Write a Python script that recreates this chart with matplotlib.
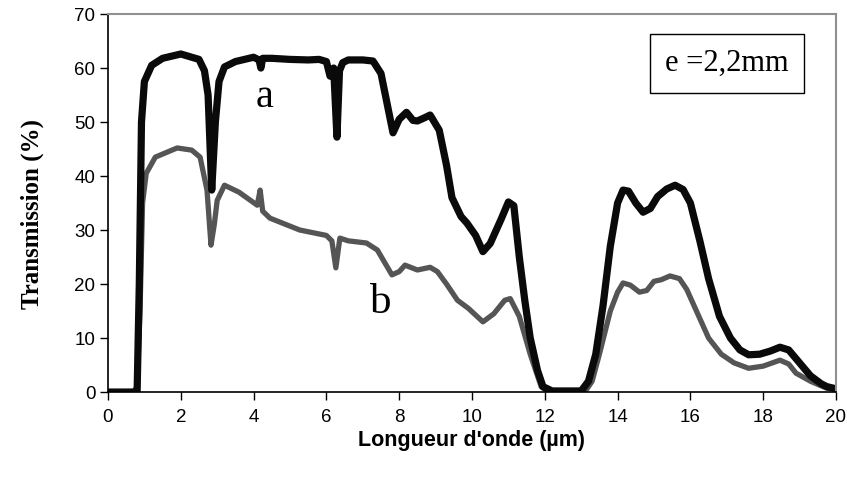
import matplotlib
matplotlib.use("Agg")
import matplotlib.pyplot as plt

# curve a (black)
wl_a = [0.0, 0.8, 0.86, 0.92, 1.0, 1.2, 1.5, 2.0, 2.5, 2.65, 2.75, 2.85, 2.95, 3.05, 3.2, 3.5,
        4.0, 4.15, 4.2, 4.25, 4.5, 5.0, 5.5, 5.8, 6.0, 6.1, 6.2, 6.29, 6.36, 6.45, 6.6, 7.0, 7.28,
        7.5, 7.65, 7.83, 8.0, 8.2, 8.38, 8.5, 8.7, 8.85, 9.1, 9.3, 9.45, 9.7, 9.86, 10.1, 10.3,
        10.5, 10.8, 11.0, 11.15, 11.3, 11.45, 11.6, 11.8, 11.95, 12.2, 13.0, 13.2, 13.4, 13.6,
        13.8, 14.0, 14.15, 14.3, 14.5, 14.7, 14.9, 15.1, 15.35, 15.58, 15.8, 16.0, 16.26, 16.5,
        16.8, 17.1, 17.36, 17.6, 17.9, 18.2, 18.46, 18.7, 19.0, 19.3, 19.6, 19.75, 20.0]
T_a = [0.0, 0.0, 20.0, 50.0, 57.5, 60.5, 61.8, 62.6, 61.6, 59.5, 55.0, 37.4, 50.0, 57.5, 60.2, 61.2,
       62.0, 61.5, 60.0, 61.8, 61.8, 61.6, 61.5, 61.6, 61.2, 58.5, 60.0, 47.2, 59.5, 61.0, 61.5, 61.5, 61.3,
       59.0, 54.0, 48.0, 50.5, 51.8, 50.3, 50.2, 50.8, 51.3, 48.5, 42.0, 36.0, 32.5, 31.3, 29.0, 26.0,
       27.5, 32.0, 35.2, 34.5, 25.0, 17.0, 10.0, 4.0, 1.0, 0.2, 0.2, 2.0, 7.0, 16.0,
       27.0, 35.0, 37.4, 37.2, 35.0, 33.3, 34.0, 36.2, 37.6, 38.3, 37.5, 35.0, 28.0, 21.0,
       14.0, 10.0, 7.8, 6.9, 7.0, 7.6, 8.3, 7.8, 5.4, 3.0, 1.5, 1.0, 0.6]

# curve b (grey)
wl_b = [0.0, 0.7, 0.8, 0.88, 0.95, 1.05, 1.3, 1.9, 2.3, 2.53, 2.72, 2.83, 2.92, 3.0, 3.2,
        3.6, 4.1, 4.18, 4.25, 4.45, 5.27, 6.0, 6.15, 6.26, 6.37, 6.6, 7.1, 7.4, 7.6, 7.8, 8.0, 8.16,
        8.5, 8.85, 9.05, 9.3, 9.6, 9.9, 10.3, 10.6, 10.9, 11.05, 11.3, 11.6, 11.9, 12.1, 13.1,
        13.3, 13.5, 13.8, 14.0, 14.15, 14.35, 14.6, 14.8, 15.0, 15.2, 15.44, 15.7, 15.9, 16.2,
        16.5, 16.85, 17.2, 17.6, 18.0, 18.46, 18.7, 18.9, 19.3, 19.75, 20.0]
T_b = [0.0, 0.0, 1.0, 15.0, 35.0, 40.5, 43.5, 45.2, 44.8, 43.5, 37.4, 27.2, 31.0, 35.5, 38.3,
       37.0, 34.6, 37.4, 33.5, 32.2, 30.0, 29.0, 28.0, 23.0, 28.5, 28.0, 27.6, 26.3, 24.0, 21.7, 22.3, 23.5,
       22.6, 23.1, 22.3, 20.0, 17.0, 15.5, 13.0, 14.5, 17.0, 17.3, 14.0, 7.0, 1.0, 0.0, 0.0,
       2.0, 7.0, 15.0, 18.5, 20.2, 19.8, 18.5, 18.8, 20.5, 20.8, 21.5, 21.0, 19.0, 14.5,
       10.0, 7.0, 5.4, 4.4, 4.8, 5.9, 5.2, 3.5, 2.0, 0.7, 0.5]

sans = "Liberation Sans"
serif = "Liberation Serif"

fig = plt.figure(figsize=(8.47, 4.84), dpi=100)
ax = fig.add_axes([0.1275, 0.19, 0.8595, 0.781])

ax.plot(wl_b, T_b, color="#555555", lw=3.8, solid_joinstyle="round", solid_capstyle="round")
ax.plot(wl_a, T_a, color="#0a0a0a", lw=5.2, solid_joinstyle="round", solid_capstyle="round")

ax.set_xlim(0, 20)
ax.set_ylim(0, 70)
ax.set_xticks(range(0, 21, 2))
ax.set_yticks(range(0, 71, 10))
ax.tick_params(direction="out", length=6, width=1, labelsize=13.5)
ax.tick_params(axis="x", pad=6)
ax.tick_params(axis="y", pad=3)
for lab in ax.get_xticklabels() + ax.get_yticklabels():
    lab.set_family(sans)

for s in ["left", "bottom"]:
    ax.spines[s].set_color("black")
    ax.spines[s].set_linewidth(1.2)
for s in ["top", "right"]:
    ax.spines[s].set_color("#909090")
    ax.spines[s].set_linewidth(1.5)

ax.set_xlabel("Longueur d'onde (µm)", family=sans, fontweight="bold", fontsize=15.5, labelpad=3)
ax.set_ylabel("Transmission (%)", family=serif, fontweight="bold", fontsize=18)
ax.yaxis.set_label_coords(-0.088, 0.47)

ax.text(4.3, 54.5, "a", family=serif, fontsize=29, ha="center", va="center")
ax.text(7.5, 16.5, "b", family=serif, fontsize=31, ha="center", va="center")
ax.text(17.0, 60.8, "e =2,2mm", family=serif, fontsize=22, ha="center", va="center",
        bbox=dict(boxstyle="square,pad=0.5", fc="white", ec="black", lw=1.0))

fig.savefig("out.png", dpi=100)
